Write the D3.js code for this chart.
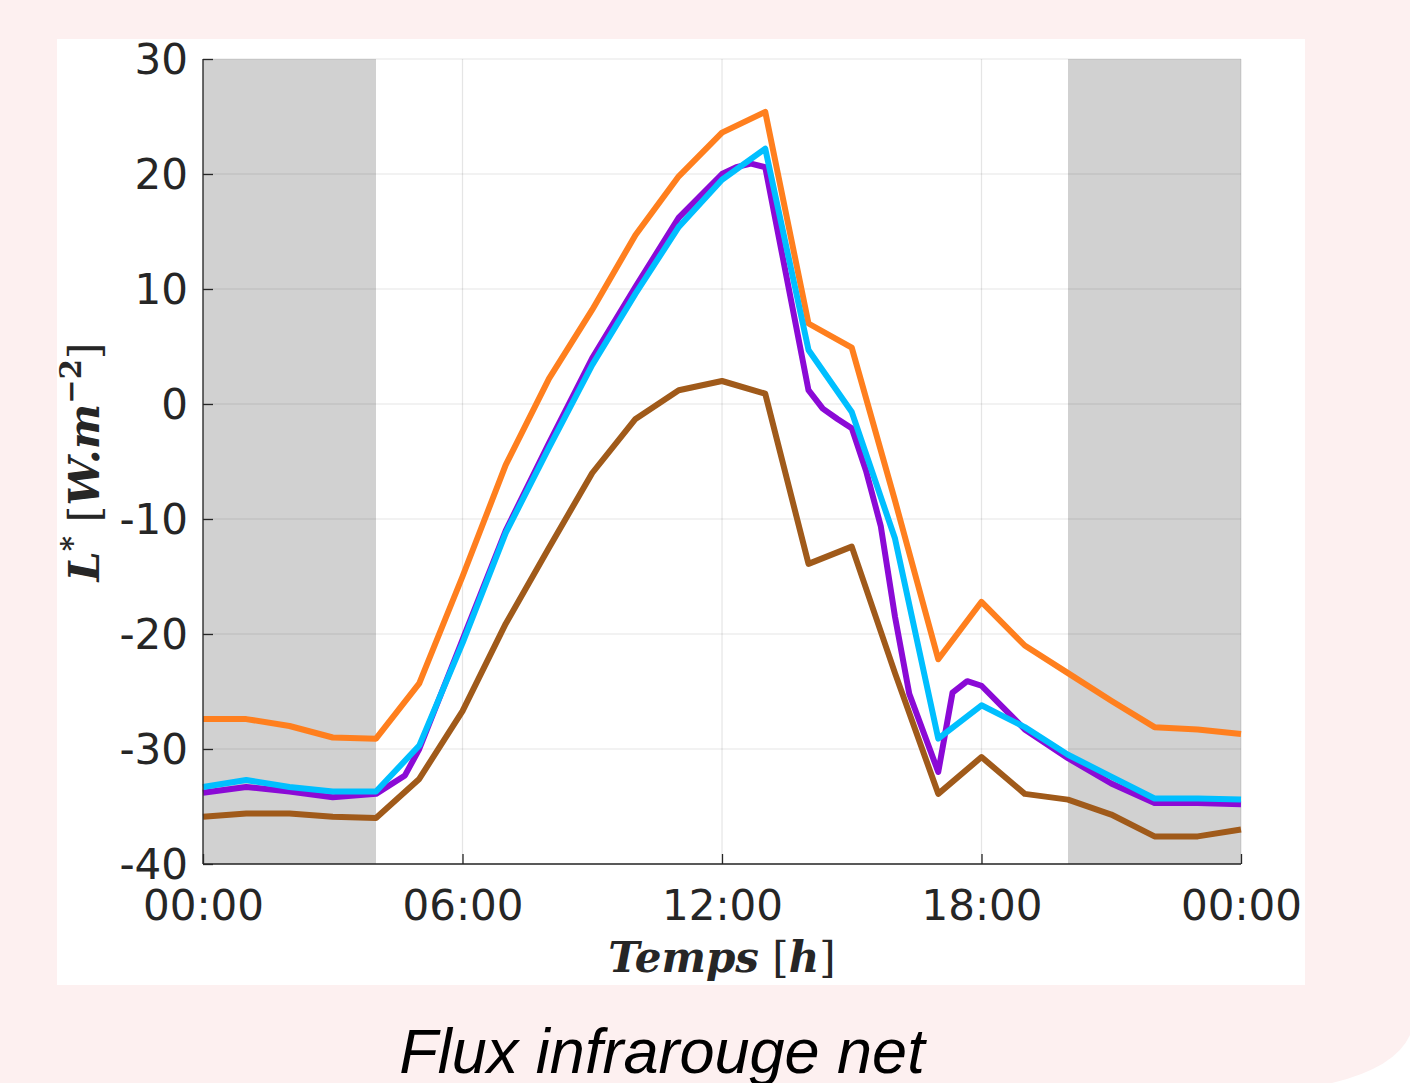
<!DOCTYPE html>
<html>
<head>
<meta charset="utf-8">
<script src="https://cdn.jsdelivr.net/npm/d3@7"></script>
<style>
  html, body { margin: 0; padding: 0; background: #fdf0f0; }
  svg { display: block; }
</style>
</head>
<body>
<script>
// ---------- data ----------
const hours = [0,1,2,3,4,5,6,7,8,9,10,11,12,13,14,15,16,17,18,19,20,21,22,23,24];
const orangeValues = [-27.4,-27.4,-28.0,-29.0,-29.1,-24.3,-15.0,-5.3,2.2,8.2,14.7,19.8,23.6,25.4,7.0,4.9,-8.4,-22.2,-17.2,-21.0,-23.4,-25.8,-28.1,-28.3,-28.7];
const cyanValues   = [-33.3,-32.7,-33.3,-33.7,-33.7,-29.7,-20.8,-11.2,-3.8,3.4,9.6,15.4,19.5,22.2,4.7,-0.7,-11.7,-29.1,-26.2,-28.1,-30.5,-32.4,-34.3,-34.3,-34.4];
const brownValues  = [-35.9,-35.6,-35.6,-35.9,-36.0,-32.6,-26.7,-19.1,-12.5,-6.0,-1.3,1.2,2.0,0.9,-13.9,-12.4,-23.4,-33.9,-30.7,-33.9,-34.4,-35.7,-37.6,-37.6,-37.0];
const purpleHours  = [0,1,2,3,4,4.67,5,6,7,8,9,10,11,12,12.33,12.67,13,14,14.33,14.67,15,15.33,15.67,16,16.33,17,17.33,17.67,18,19,20,21,22,23,24];
const purpleValues = [-33.8,-33.3,-33.7,-34.2,-33.9,-32.3,-30.0,-20.5,-11.0,-3.4,4.0,10.2,16.2,20.0,20.6,20.9,20.6,1.2,-0.4,-1.3,-2.1,-5.8,-10.6,-18.5,-25.2,-32.0,-25.1,-24.1,-24.5,-28.3,-30.8,-33.0,-34.7,-34.7,-34.8];
const nightBands = [[0,4],[20,24]];
const xTicks = [0,6,12,18,24];
const xTickLabels = ["00:00","06:00","12:00","18:00","00:00"];
const yTicks = [-40,-30,-20,-10,0,10,20,30];
const caption = "Flux infrarouge net";

const series = [
  {name:"brown",  x: hours,       y: brownValues,  color:"#a05a1a"},
  {name:"orange", x: hours,       y: orangeValues, color:"#ff7f1e"},
  {name:"purple", x: purpleHours, y: purpleValues, color:"#8b0ad6"},
  {name:"cyan",   x: hours,       y: cyanValues,   color:"#00bfff"}
];

// ---------- layout ----------
const W = 1410, H = 1083;
const svg = d3.select("body").append("svg").attr("width", W).attr("height", H);

svg.append("rect").attr("width", W).attr("height", H).attr("fill", "#fdf0f0");
svg.append("path").attr("d", "M1410,1035 Q1395,1068 1332,1083 L1410,1083 Z").attr("fill", "#ffffff");
svg.append("rect").attr("x", 57).attr("y", 39).attr("width", 1248).attr("height", 946).attr("fill", "#ffffff");

const x = d3.scaleLinear().domain([0, 24]).range([203, 1241]);
const y = d3.scaleLinear().domain([-40, 30]).range([864, 59]);

const g = svg.append("g");

g.selectAll("rect.band").data(nightBands).join("rect")
  .attr("class","band")
  .attr("x", d => x(d[0])).attr("width", d => x(d[1]) - x(d[0]))
  .attr("y", y(30)).attr("height", y(-40) - y(30))
  .attr("fill", "#d1d1d1");

g.append("g").selectAll("line").data(yTicks).join("line")
  .attr("x1", x(0)).attr("x2", x(24)).attr("y1", d => y(d)).attr("y2", d => y(d))
  .attr("stroke", "#262626").attr("stroke-opacity", 0.12).attr("stroke-width", 1.2);
g.append("g").selectAll("line").data(xTicks).join("line")
  .attr("x1", d => x(d)).attr("x2", d => x(d)).attr("y1", y(-40)).attr("y2", y(30))
  .attr("stroke", "#262626").attr("stroke-opacity", 0.12).attr("stroke-width", 1.2);

const line = d3.line().x(d => x(d[0])).y(d => y(d[1]));
series.forEach(s => {
  g.append("path")
    .datum(s.x.map((h, i) => [h, s.y[i]]))
    .attr("d", line)
    .attr("fill", "none")
    .attr("stroke", s.color)
    .attr("stroke-width", 6)
    .attr("stroke-linejoin", "round")
    .attr("stroke-linecap", "butt");
});

const yAxis = d3.axisLeft(y).tickValues(yTicks).tickSize(-10).tickPadding(15).tickFormat(d => String(d));
const xAxis = d3.axisBottom(x).tickValues(xTicks).tickSize(-10).tickPadding(26).tickFormat((d, i) => xTickLabels[i]);

const ya = svg.append("g").attr("transform", `translate(${x(0)},0)`).call(yAxis);
const xa = svg.append("g").attr("transform", `translate(0,${y(-40)})`).call(xAxis);
[ya, xa].forEach(a => {
  a.select(".domain").attr("stroke", "#262626").attr("stroke-width", 1.3);
  a.selectAll(".tick line").attr("stroke", "#262626").attr("stroke-width", 1.3);
  a.selectAll(".tick text")
    .attr("fill", "#262626")
    .attr("font-family", "'DejaVu Sans', sans-serif")
    .attr("font-size", 42);
});
ya.selectAll(".tick text").attr("dy", "0.34em");
xa.selectAll(".tick text").attr("dy", "0.72em");
ya.select(".domain").attr("d", `M0,${y(30)}V${y(-40)}`);
xa.select(".domain").attr("d", `M${x(0)},0H${x(24)}`);

// axis labels
const serif = "'DejaVu Serif', 'Liberation Serif', serif";
const xl = svg.append("text")
  .attr("x", 722).attr("y", 972)
  .attr("text-anchor", "middle")
  .attr("font-family", serif).attr("font-size", 42).attr("font-weight", "bold")
  .attr("fill", "#262626");
xl.append("tspan").attr("font-style", "italic").text("Temps");
xl.append("tspan").attr("font-weight", "normal").text(" [");
xl.append("tspan").attr("font-style", "italic").text("h");
xl.append("tspan").attr("font-weight", "normal").text("]");

const yl = svg.append("g").attr("transform", "translate(99,462) rotate(-90)");
const ylt = yl.append("text")
  .attr("x", 0).attr("y", 0)
  .attr("text-anchor", "middle")
  .attr("font-family", serif).attr("font-size", 43).attr("font-weight", "bold")
  .attr("fill", "#262626");
ylt.append("tspan").attr("font-style", "italic").text("L");
ylt.append("tspan").attr("font-size", 29).attr("dy", -17).text("*");
ylt.append("tspan").attr("font-weight", "normal").attr("dy", 17).text("\u00a0[");
ylt.append("tspan").attr("font-style", "italic").text("W.m");
ylt.append("tspan").attr("font-size", 29).attr("dy", -18).text("\u22122");
ylt.append("tspan").attr("font-weight", "normal").attr("dy", 18).text("]");

svg.append("text")
  .attr("x", 662).attr("y", 1073)
  .attr("text-anchor", "middle")
  .attr("font-family", "'Liberation Sans', Arial, sans-serif")
  .attr("font-style", "italic")
  .attr("font-size", 63)
  .attr("fill", "#000000")
  .text(caption);
</script>
</body>
</html>
